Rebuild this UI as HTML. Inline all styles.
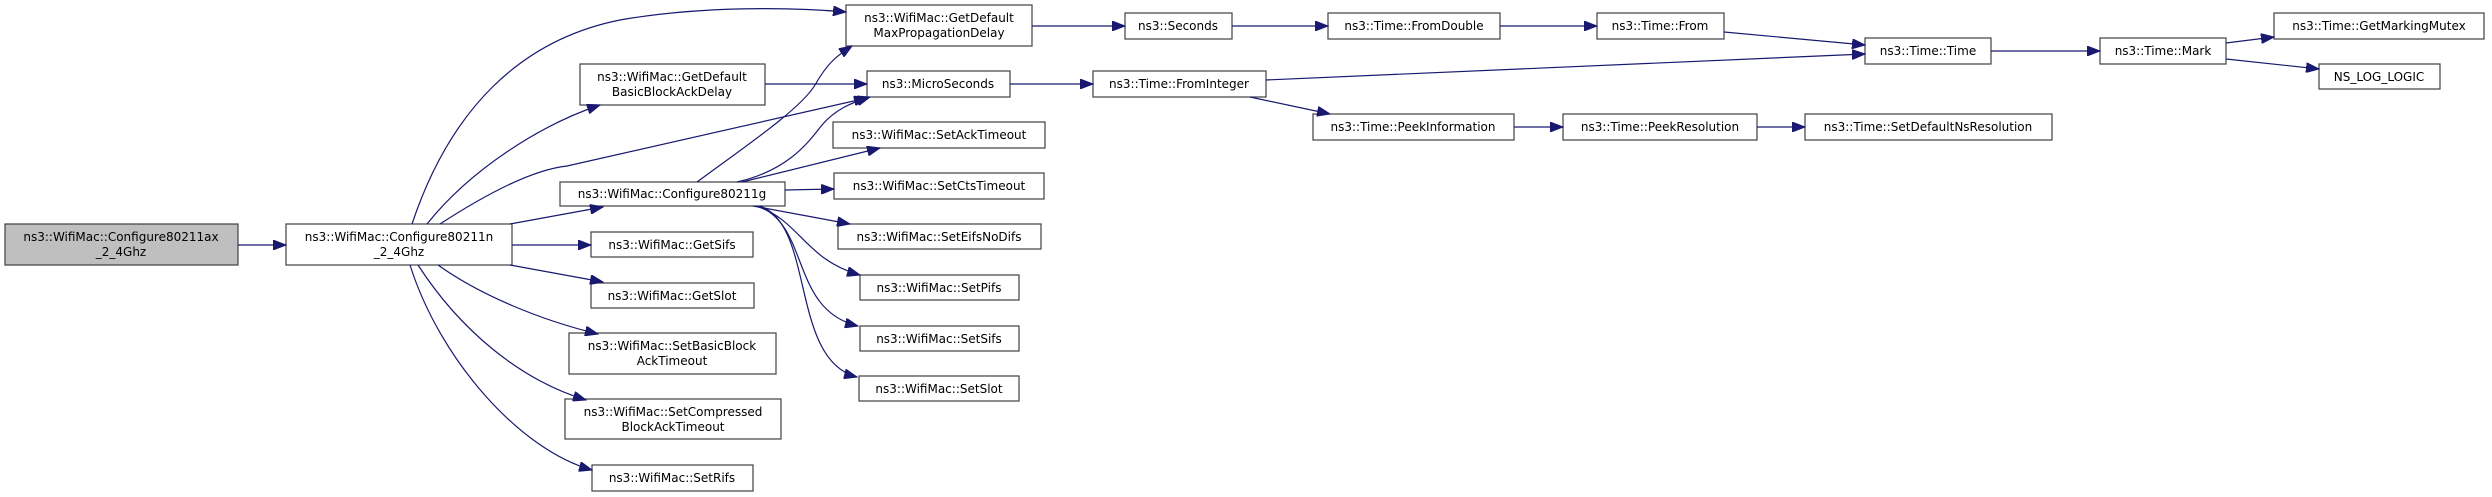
<!DOCTYPE html>
<html><head><meta charset="utf-8"><style>
html,body{margin:0;padding:0;background:#fff;}
svg{display:block;}
text{font-family:"DejaVu Sans","Liberation Sans",sans-serif;font-size:12px;fill:#000;}
.b{fill:#fff;stroke:#404040;stroke-width:1.2;}
.g{fill:#bfbfbf;stroke:#404040;stroke-width:1.2;}
.e{fill:none;stroke:#191970;stroke-width:1.2;}
</style></head><body>
<svg width="2492" height="497" viewBox="0 0 2492 497" xmlns="http://www.w3.org/2000/svg">
<defs>
<marker id="a" markerWidth="14" markerHeight="10" refX="13" refY="5" orient="auto" markerUnits="userSpaceOnUse">
<path d="M0,0 L13,5 L0,10 Z" fill="#191970" stroke="#191970"/>
</marker>
</defs>
<g text-anchor="middle">
<rect class="g" x="5" y="224" width="233" height="41"/>
<text x="121" y="241">ns3::WifiMac::Configure80211ax</text><text x="121" y="256">_2_4Ghz</text>
<rect class="b" x="286" y="224" width="226" height="41"/>
<text x="399" y="241">ns3::WifiMac::Configure80211n</text><text x="399" y="256">_2_4Ghz</text>
<rect class="b" x="580" y="64" width="185" height="41"/>
<text x="672" y="81">ns3::WifiMac::GetDefault</text><text x="672" y="96">BasicBlockAckDelay</text>
<rect class="b" x="560" y="182" width="225" height="24"/>
<text x="672" y="198">ns3::WifiMac::Configure80211g</text>
<rect class="b" x="591" y="232" width="162" height="25"/>
<text x="672" y="249">ns3::WifiMac::GetSifs</text>
<rect class="b" x="591" y="283" width="163" height="25"/>
<text x="672" y="300">ns3::WifiMac::GetSlot</text>
<rect class="b" x="569" y="333" width="207" height="41"/>
<text x="672" y="350">ns3::WifiMac::SetBasicBlock</text><text x="672" y="365">AckTimeout</text>
<rect class="b" x="565" y="399" width="216" height="40"/>
<text x="673" y="416">ns3::WifiMac::SetCompressed</text><text x="673" y="431">BlockAckTimeout</text>
<rect class="b" x="592" y="465" width="161" height="26"/>
<text x="672" y="482">ns3::WifiMac::SetRifs</text>
<rect class="b" x="846" y="5" width="186" height="41"/>
<text x="939" y="22">ns3::WifiMac::GetDefault</text><text x="939" y="37">MaxPropagationDelay</text>
<rect class="b" x="867" y="71" width="143" height="26"/>
<text x="938" y="88">ns3::MicroSeconds</text>
<rect class="b" x="833" y="122" width="212" height="26"/>
<text x="939" y="139">ns3::WifiMac::SetAckTimeout</text>
<rect class="b" x="834" y="173" width="210" height="26"/>
<text x="939" y="190">ns3::WifiMac::SetCtsTimeout</text>
<rect class="b" x="838" y="224" width="203" height="25"/>
<text x="939" y="241">ns3::WifiMac::SetEifsNoDifs</text>
<rect class="b" x="860" y="275" width="159" height="25"/>
<text x="939" y="292">ns3::WifiMac::SetPifs</text>
<rect class="b" x="860" y="326" width="159" height="25"/>
<text x="939" y="343">ns3::WifiMac::SetSifs</text>
<rect class="b" x="859" y="376" width="160" height="25"/>
<text x="939" y="393">ns3::WifiMac::SetSlot</text>
<rect class="b" x="1125" y="13" width="107" height="26"/>
<text x="1178" y="30">ns3::Seconds</text>
<rect class="b" x="1093" y="71" width="173" height="26"/>
<text x="1179" y="88">ns3::Time::FromInteger</text>
<rect class="b" x="1328" y="13" width="172" height="26"/>
<text x="1414" y="30">ns3::Time::FromDouble</text>
<rect class="b" x="1313" y="114" width="201" height="26"/>
<text x="1413" y="131">ns3::Time::PeekInformation</text>
<rect class="b" x="1597" y="13" width="127" height="26"/>
<text x="1660" y="30">ns3::Time::From</text>
<rect class="b" x="1563" y="114" width="194" height="26"/>
<text x="1660" y="131">ns3::Time::PeekResolution</text>
<rect class="b" x="1805" y="114" width="247" height="26"/>
<text x="1928" y="131">ns3::Time::SetDefaultNsResolution</text>
<rect class="b" x="1865" y="38" width="126" height="26"/>
<text x="1928" y="55">ns3::Time::Time</text>
<rect class="b" x="2100" y="38" width="126" height="26"/>
<text x="2163" y="55">ns3::Time::Mark</text>
<rect class="b" x="2274" y="13" width="210" height="26"/>
<text x="2379" y="30">ns3::Time::GetMarkingMutex</text>
<rect class="b" x="2319" y="64" width="121" height="25"/>
<text x="2379" y="81">NS_LOG_LOGIC</text>
</g>
<g marker-end="url(#a)">
<path class="e" d="M238,245 L286,245"/>
<path class="e" d="M412,224 C450,110 520,40 620,20 C700,6 790,7 846,12"/>
<path class="e" d="M427,224 C470,170 540,125 600,105"/>
<path class="e" d="M440,224 C480,198 530,170 567,166 L867,98"/>
<path class="e" d="M510,224 L603,207"/>
<path class="e" d="M512,245 L591,245"/>
<path class="e" d="M510,265 L603,282"/>
<path class="e" d="M438,265 C480,295 540,320 598,334"/>
<path class="e" d="M418,265 C460,330 520,380 586,400"/>
<path class="e" d="M410,265 C440,360 520,450 592,470"/>
<path class="e" d="M697,182 C740,150 800,110 815,85 C828,62 838,55 852,46"/>
<path class="e" d="M737,182 C790,170 810,140 822,125 C835,110 850,103 870,97"/>
<path class="e" d="M765,84 L867,84"/>
<path class="e" d="M742,182 L880,148"/>
<path class="e" d="M785,190 L834,189"/>
<path class="e" d="M753,206 L850,224"/>
<path class="e" d="M756,206 C800,220 805,260 860,275"/>
<path class="e" d="M758,206 C810,225 790,310 858,326"/>
<path class="e" d="M760,206 C815,225 790,360 857,377"/>
<path class="e" d="M1032,26 L1125,26"/>
<path class="e" d="M1232,26 L1328,26"/>
<path class="e" d="M1500,26 L1597,26"/>
<path class="e" d="M1724,32 L1865,45"/>
<path class="e" d="M1266,80 L1865,54"/>
<path class="e" d="M1010,84 L1093,84"/>
<path class="e" d="M1250,97 L1330,114"/>
<path class="e" d="M1514,127 L1563,127"/>
<path class="e" d="M1757,127 L1805,127"/>
<path class="e" d="M1991,51 L2100,51"/>
<path class="e" d="M2226,43 L2274,37"/>
<path class="e" d="M2226,59 L2319,69"/>
</g>
</svg>
</body></html>
